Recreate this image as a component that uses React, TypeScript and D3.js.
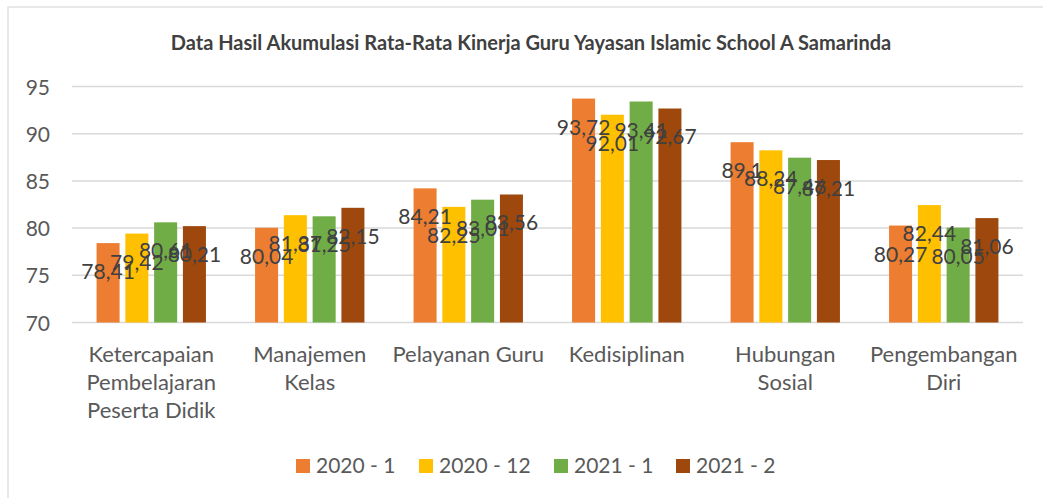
import { useEffect, useRef } from "react";
import * as d3 from "d3";

const categories = [
  ["Ketercapaian", "Pembelajaran", "Peserta Didik"],
  ["Manajemen", "Kelas"],
  ["Pelayanan Guru"],
  ["Kedisiplinan"],
  ["Hubungan", "Sosial"],
  ["Pengembangan", "Diri"],
];
const seriesNames = ["2020 - 1", "2020 - 12", "2021 - 1", "2021 - 2"];
const seriesColors = ["#ED7D31", "#FFC000", "#70AD47", "#9E480E"];
const s2020_1 = [78.41, 80.04, 84.21, 93.72, 89.1, 80.27];
const s2020_12 = [79.42, 81.37, 82.25, 92.01, 88.24, 82.44];
const s2021_1 = [80.61, 81.25, 83.01, 93.41, 87.46, 80.05];
const s2021_2 = [80.21, 82.15, 83.56, 92.67, 87.21, 81.06];
const yTicks = [70, 75, 80, 85, 90, 95];

const FONT = "Lato, 'Open Sans', sans-serif";

export default function App() {
  const ref = useRef<HTMLDivElement>(null);

  useEffect(() => {
    const container = d3.select(ref.current);
    container.selectAll("*").remove();

    const width = 1043, height = 498;
    const svg = container.append("svg")
      .attr("width", width)
      .attr("height", height)
      .style("position", "absolute")
      .style("left", 0)
      .style("top", 0)
      .style("font-family", FONT);

    svg.append("rect").attr("width", width).attr("height", height).attr("fill", "#fff");
    // chart frame
    svg.append("rect")
      .attr("x", 8).attr("y", 7)
      .attr("width", width + 20).attr("height", height + 20)
      .attr("fill", "none")
      .attr("stroke", "#D9D9D9")
      .attr("stroke-width", 1.2);

    const series = [s2020_1, s2020_12, s2021_1, s2021_2];
    const idx = d3.range(categories.length).map(String);

    const x0 = d3.scaleBand().domain(idx).range([72, 1023])
      .paddingInner(0.31).paddingOuter(0.155);
    const x1 = d3.scaleBand().domain(seriesNames).range([0, x0.bandwidth()])
      .paddingInner(0.2);
    const y = d3.scaleLinear().domain([70, 95]).range([322.5, 86.5]);

    svg.append("text")
      .attr("x", 531).attr("y", 50)
      .attr("text-anchor", "middle")
      .attr("font-size", 20)
      .attr("font-weight", "bold")
      .attr("fill", "#404040")
      .text("Data Hasil Akumulasi Rata-Rata Kinerja Guru Yayasan Islamic School A Samarinda");

    // grid
    svg.append("g").selectAll("line").data(yTicks).join("line")
      .attr("x1", 72).attr("x2", 1023)
      .attr("y1", d => y(d)).attr("y2", d => y(d))
      .attr("stroke", "#D9D9D9").attr("stroke-width", 1.5);

    svg.append("g").selectAll("text").data(yTicks).join("text")
      .attr("x", 50).attr("y", d => y(d) + 8)
      .attr("text-anchor", "end")
      .attr("font-size", 21)
      .attr("fill", "#595959")
      .text(d => d);

    // bars
    const groups = svg.append("g").selectAll("g").data(idx).join("g")
      .attr("transform", d => `translate(${x0(d)},0)`);

    groups.selectAll("rect")
      .data(d => series.map((s, j) => ({ name: seriesNames[j], v: s[+d], c: seriesColors[j] })))
      .join("rect")
      .attr("x", d => x1(d.name)!)
      .attr("y", d => y(d.v))
      .attr("width", x1.bandwidth())
      .attr("height", d => y(70) - y(d.v))
      .attr("fill", d => d.c);

    groups.selectAll("text")
      .data(d => series.map((s, j) => ({ name: seriesNames[j], v: s[+d] })))
      .join("text")
      .attr("x", d => x1(d.name)! + x1.bandwidth() / 2)
      .attr("y", d => y(d.v) + 36)
      .attr("text-anchor", "middle")
      .attr("font-size", 21)
      .attr("fill", "#404040")
      .text(d => String(d.v).replace(".", ","));

    // category labels
    const cat = svg.append("g").selectAll("text").data(idx).join("text")
      .attr("x", d => x0(d)! + x0.bandwidth() / 2)
      .attr("y", 362)
      .attr("text-anchor", "middle")
      .attr("font-size", 22)
      .attr("fill", "#595959");
    cat.selectAll("tspan").data(d => categories[+d]).join("tspan")
      .attr("x", function () {
        return (this.parentNode as SVGTextElement).getAttribute("x");
      })
      .attr("dy", (_, i) => (i === 0 ? 0 : 28))
      .text(d => d);

    // legend
    const legendX = [296, 419, 554, 676];
    const leg = svg.append("g").selectAll("g").data(seriesNames).join("g")
      .attr("transform", (_, i) => `translate(${legendX[i]},459)`);
    leg.append("rect").attr("width", 14).attr("height", 14)
      .attr("fill", (_, i) => seriesColors[i]);
    leg.append("text").attr("x", 20).attr("y", 14)
      .attr("font-size", 21).attr("fill", "#595959")
      .text(d => d);
  }, []);

  return <div ref={ref}></div>;
}
